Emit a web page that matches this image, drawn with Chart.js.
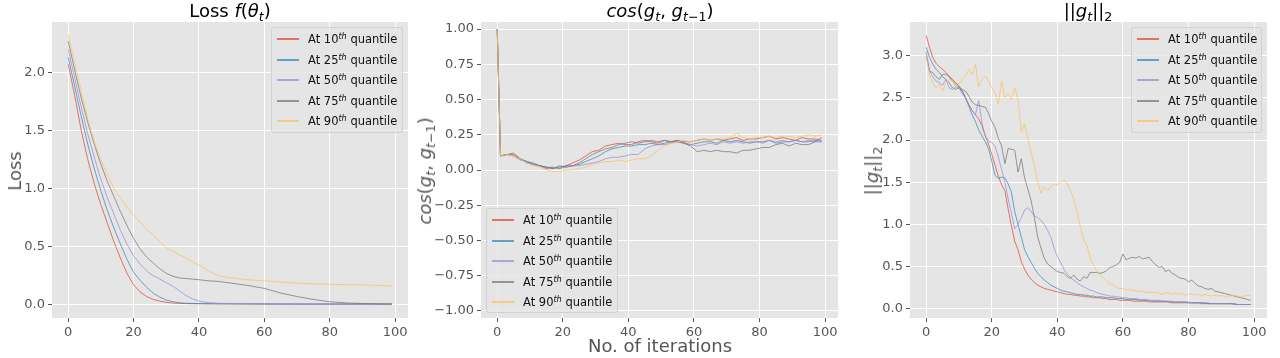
<!DOCTYPE html>
<html>
<head>
<meta charset="utf-8">
<script src="https://cdn.jsdelivr.net/npm/chart.js@4.4.1/dist/chart.umd.min.js"></script>
<style>
  body { margin: 0; background: #fff; width: 1280px; height: 358px; overflow: hidden; position: relative; font-family: "DejaVu Sans", sans-serif; }
  canvas { position: absolute; top: 0; }
  .title { position: absolute; top: 2px; font-size: 18px; line-height: 18px; color: #000; white-space: nowrap; transform: translateX(-50%); }
  .ylab { position: absolute; font-size: 18px; line-height: 18px; color: #555; white-space: nowrap; transform: translate(-50%, -50%) rotate(-90deg); }
  .xlab { position: absolute; font-size: 18px; line-height: 18px; color: #555; white-space: nowrap; transform: translateX(-50%); }
  sub { font-size: 70%; vertical-align: -0.3em; line-height: 0; }
  sup { font-size: 70%; vertical-align: 0.45em; line-height: 0; }
  .legend { position: absolute; background: rgba(229,229,229,0.8); border: 1px solid rgba(204,204,204,0.8); border-radius: 3px; box-sizing: border-box; }
  .legend .row { position: absolute; left: 0; right: 0; height: 0; }
  .legend .swatch { position: absolute; left: 5px; width: 22px; top: -1px; height: 2px; opacity: 0.75; }
  .legend .lbl { position: absolute; left: 36px; top: -8px; font-size: 11.5px; line-height: 16px; color: #111; white-space: nowrap; }
</style>
</head>
<body>
<canvas id="c1"></canvas>
<canvas id="c2"></canvas>
<canvas id="c3"></canvas>

<div class="title" style="left:230px">Loss <i>f</i>(<i>θ</i><sub><i>t</i></sub>)</div>
<div class="title" style="left:660px"><i>cos</i>(<i>g</i><sub><i>t</i></sub>, <i>g</i><sub><i>t</i>−1</sub>)</div>
<div class="title" style="left:1088px">||<i>g</i><sub><i>t</i></sub>||<sub>2</sub></div>

<div class="ylab" style="left:15px;top:171px">Loss</div>
<div class="ylab" style="left:425px;top:171px"><i>cos</i>(<i>g</i><sub><i>t</i></sub>, <i>g</i><sub><i>t</i>−1</sub>)</div>
<div class="ylab" style="left:872px;top:171px">||<i>g</i><sub><i>t</i></sub>||<sub>2</sub></div>
<div class="xlab" style="left:660px;top:337px">No. of iterations</div>

<div id="leg1" class="legend" style="left:271px;top:27px;width:132px;height:106px"></div>
<div id="leg2" class="legend" style="left:486px;top:208px;width:132px;height:105px"></div>
<div id="leg3" class="legend" style="left:1131px;top:27px;width:131px;height:106px"></div>

<script>
const quantiles = [10, 25, 50, 75, 90];
const colors = ['rgba(226,74,51,0.75)', 'rgba(52,138,189,0.75)', 'rgba(152,142,213,0.75)', 'rgba(119,119,119,0.75)', 'rgba(251,193,94,0.75)'];
const swatchColors = ['#E24A33', '#348ABD', '#988ED5', '#777777', '#FBC15E'];
const xTicks = [0, 20, 40, 60, 80, 100];

// Loss f(theta_t)
const lossIters = [0,2,4,6,8,10,12,14,16,18,20,22,24,26,28,30,32,34,36,38,40,43,46,50,55,60,65,70,75,80,85,90,95,99];
const loss10 = [2.07,1.80,1.50,1.25,1.04,0.86,0.70,0.54,0.40,0.27,0.17,0.11,0.07,0.045,0.03,0.02,0.014,0.011,0.009,0.008,0.008,0.007,0.007,0.006,0.006,0.005,0.005,0.005,0.005,0.005,0.005,0.005,0.005,0.005];
const loss25 = [2.13,1.88,1.62,1.38,1.17,0.98,0.81,0.66,0.52,0.39,0.28,0.21,0.15,0.10,0.065,0.04,0.025,0.016,0.012,0.010,0.009,0.008,0.007,0.007,0.006,0.006,0.005,0.005,0.005,0.005,0.005,0.005,0.005,0.005];
const loss50 = [2.20,1.95,1.70,1.47,1.27,1.08,0.92,0.78,0.64,0.52,0.42,0.35,0.29,0.25,0.22,0.19,0.16,0.12,0.08,0.05,0.03,0.017,0.012,0.010,0.008,0.007,0.006,0.006,0.005,0.005,0.005,0.005,0.005,0.005];
const loss75 = [2.27,2.02,1.78,1.57,1.38,1.21,1.06,0.93,0.80,0.68,0.57,0.48,0.41,0.36,0.31,0.27,0.245,0.23,0.225,0.22,0.215,0.205,0.20,0.185,0.165,0.14,0.10,0.07,0.045,0.025,0.015,0.010,0.007,0.005];
const loss90 = [2.32,2.08,1.84,1.60,1.40,1.25,1.12,1.00,0.92,0.84,0.77,0.71,0.65,0.60,0.54,0.49,0.46,0.43,0.40,0.37,0.34,0.29,0.25,0.23,0.215,0.205,0.195,0.185,0.18,0.175,0.172,0.17,0.165,0.16];
const lossTicks = [0.0, 0.5, 1.0, 1.5, 2.0];

// cos(g_t, g_{t-1})
const cosIters = [0,1,3,5,7,9,11,13,15,17,19,21,23,25,27,29,31,33,35,37,39,41,43,45,47,49,51,53,55,57,59,61,63,65,67,69,71,73,75,77,79,81,83,85,87,89,91,93,95,97,99];
const cos10 = [1.0,0.10,0.11,0.11,0.08,0.06,0.04,0.03,0.01,0.02,0.01,0.03,0.05,0.07,0.10,0.13,0.14,0.17,0.18,0.19,0.18,0.18,0.20,0.21,0.20,0.19,0.21,0.20,0.21,0.20,0.20,0.21,0.22,0.21,0.22,0.21,0.22,0.23,0.21,0.22,0.22,0.23,0.24,0.22,0.23,0.22,0.21,0.23,0.22,0.22,0.21];
const cos25 = [1.0,0.10,0.11,0.10,0.08,0.05,0.04,0.03,0.02,0.01,0.03,0.02,0.03,0.04,0.06,0.08,0.10,0.13,0.15,0.16,0.17,0.17,0.18,0.18,0.19,0.18,0.19,0.20,0.20,0.19,0.18,0.19,0.20,0.20,0.19,0.21,0.20,0.21,0.20,0.19,0.20,0.20,0.21,0.19,0.20,0.20,0.21,0.20,0.20,0.21,0.20];
const cos50 = [1.0,0.10,0.11,0.10,0.07,0.06,0.04,0.03,0.02,0.02,0.01,0.02,0.03,0.03,0.04,0.05,0.06,0.08,0.09,0.09,0.10,0.11,0.11,0.15,0.17,0.18,0.18,0.19,0.20,0.19,0.18,0.17,0.18,0.19,0.18,0.20,0.19,0.20,0.19,0.20,0.20,0.19,0.21,0.20,0.21,0.20,0.21,0.20,0.21,0.20,0.20];
const cos75 = [1.0,0.10,0.11,0.12,0.08,0.06,0.05,0.03,0.02,0.01,0.02,0.03,0.03,0.05,0.08,0.11,0.13,0.15,0.16,0.18,0.19,0.20,0.19,0.20,0.21,0.20,0.21,0.20,0.21,0.19,0.17,0.13,0.14,0.13,0.14,0.13,0.13,0.12,0.14,0.14,0.15,0.16,0.16,0.18,0.19,0.17,0.19,0.18,0.18,0.20,0.23];
const cos90 = [1.0,0.10,0.11,0.10,0.08,0.05,0.03,0.02,0.00,-0.01,-0.01,0.00,0.00,0.01,0.02,0.04,0.05,0.06,0.06,0.07,0.06,0.07,0.08,0.08,0.10,0.14,0.17,0.19,0.20,0.21,0.20,0.21,0.22,0.21,0.22,0.22,0.23,0.26,0.23,0.22,0.23,0.23,0.24,0.23,0.24,0.24,0.23,0.24,0.25,0.24,0.25];
const cosTicks = [-1.0, -0.75, -0.5, -0.25, 0.0, 0.25, 0.5, 0.75, 1.0];

// ||g_t||_2
const normIters = Array.from({ length: 100 }, (_, i) => i);
const norm10 = [3.24,3.10,2.98,2.91,2.87,2.84,2.80,2.76,2.72,2.68,2.64,2.58,2.50,2.42,2.35,2.30,2.25,2.17,2.05,1.95,1.83,1.70,1.57,1.47,1.40,1.18,0.98,0.80,0.70,0.56,0.47,0.40,0.35,0.31,0.28,0.26,0.24,0.23,0.22,0.21,0.20,0.19,0.18,0.17,0.17,0.16,0.16,0.15,0.15,0.14,
  0.14,0.13,0.13,0.13,0.12,0.12,0.11,0.11,0.11,0.10,0.10,0.10,0.10,0.09,0.09,0.09,0.09,0.09,0.08,0.08,0.08,0.08,0.08,0.08,0.08,0.07,0.07,0.07,0.07,0.07,0.07,0.07,0.07,0.07,0.06,0.06,0.06,0.06,0.06,0.06,0.06,0.06,0.06,0.06,0.05,0.05,0.05,0.05,0.05,0.05];
const norm25 = [3.10,2.98,2.90,2.84,2.80,2.75,2.72,2.68,2.62,2.60,2.62,2.58,2.50,2.40,2.30,2.22,2.12,2.05,1.98,1.90,1.75,1.58,1.55,1.56,1.55,1.48,1.38,1.15,1.00,0.85,0.70,0.62,0.55,0.48,0.42,0.38,0.34,0.31,0.28,0.26,0.24,0.22,0.21,0.20,0.19,0.18,0.17,0.17,0.16,0.16,
  0.15,0.15,0.14,0.14,0.14,0.13,0.13,0.13,0.12,0.12,0.12,0.11,0.11,0.11,0.11,0.10,0.10,0.10,0.10,0.09,0.09,0.09,0.09,0.09,0.08,0.08,0.08,0.08,0.08,0.08,0.07,0.07,0.07,0.07,0.07,0.07,0.06,0.06,0.06,0.06,0.06,0.06,0.06,0.06,0.06,0.05,0.05,0.05,0.05,0.05];
const norm50 = [3.05,2.82,2.75,2.70,2.68,2.65,2.72,2.62,2.60,2.63,2.62,2.55,2.50,2.42,2.35,2.30,2.47,2.20,2.05,1.99,1.97,1.93,1.80,1.65,1.50,1.30,1.13,0.95,1.00,1.08,1.17,1.20,1.15,1.10,1.08,1.05,1.00,0.93,0.85,0.72,0.62,0.55,0.47,0.41,0.37,0.34,0.31,0.28,0.26,0.24,
  0.22,0.21,0.19,0.18,0.17,0.16,0.15,0.15,0.14,0.14,0.13,0.13,0.12,0.12,0.12,0.11,0.11,0.11,0.10,0.10,0.10,0.10,0.09,0.09,0.09,0.09,0.08,0.08,0.08,0.08,0.08,0.07,0.07,0.07,0.07,0.07,0.07,0.06,0.06,0.06,0.06,0.06,0.06,0.06,0.06,0.05,0.05,0.05,0.05,0.05];
const norm75 = [3.00,2.82,2.80,2.75,2.72,2.78,2.78,2.75,2.70,2.66,2.63,2.60,2.58,2.52,2.45,2.42,2.41,2.40,2.39,2.32,2.22,2.15,2.02,1.93,1.72,1.90,1.89,1.88,1.62,1.78,1.55,1.42,1.28,1.08,0.85,0.72,0.60,0.53,0.50,0.47,0.44,0.43,0.42,0.38,0.36,0.40,0.35,0.33,0.38,0.36,
  0.43,0.43,0.43,0.42,0.43,0.45,0.49,0.50,0.52,0.55,0.65,0.58,0.60,0.61,0.60,0.62,0.59,0.60,0.61,0.56,0.52,0.49,0.50,0.44,0.46,0.42,0.40,0.37,0.36,0.35,0.32,0.34,0.30,0.27,0.26,0.24,0.23,0.24,0.21,0.20,0.19,0.18,0.17,0.16,0.15,0.14,0.13,0.12,0.11,0.10];
const norm90 = [3.00,2.78,2.68,2.62,2.66,2.58,2.68,2.72,2.70,2.62,2.66,2.72,2.76,2.84,2.78,2.90,2.63,2.72,2.76,2.70,2.62,2.55,2.43,2.70,2.50,2.55,2.48,2.62,2.48,2.10,2.19,2.02,1.85,1.70,1.50,1.37,1.45,1.40,1.45,1.48,1.47,1.50,1.53,1.48,1.40,1.30,1.15,0.97,0.82,0.75,
  0.61,0.52,0.45,0.40,0.37,0.33,0.30,0.28,0.26,0.24,0.24,0.22,0.23,0.21,0.22,0.20,0.21,0.19,0.20,0.19,0.20,0.18,0.17,0.19,0.18,0.17,0.19,0.17,0.18,0.16,0.17,0.18,0.16,0.17,0.15,0.17,0.16,0.15,0.16,0.15,0.16,0.14,0.15,0.15,0.16,0.15,0.14,0.15,0.16,0.16];
const normTicks = [0.0, 0.5, 1.0, 1.5, 2.0, 2.5, 3.0];

const areaBg = {
  id: 'areaBg',
  beforeDraw(chart) {
    const { ctx, chartArea: a } = chart;
    ctx.save();
    ctx.fillStyle = '#E5E5E5';
    ctx.fillRect(a.left, a.top, a.right - a.left, a.bottom - a.top);
    ctx.restore();
  }
};

const Y_AXIS_W = 50, X_AXIS_H = 26;

function makePanel(id, area, xs, series, yMin, yMax, yTicks, yFmt) {
  const cv = document.getElementById(id);
  const left = area.l - Y_AXIS_W;
  cv.style.left = left + 'px';
  cv.width = area.r + 14 - left;
  cv.height = 358;
  const tickFont = { family: 'DejaVu Sans', size: 13 };
  new Chart(cv, {
    type: 'line',
    data: {
      datasets: series.map((s, k) => ({
        label: 'At ' + quantiles[k] + 'th quantile',
        data: xs.map((x, i) => ({ x: x, y: s[i] })),
        borderColor: colors[k],
        borderWidth: 1,
        pointRadius: 0,
        tension: 0,
        order: series.length - k
      }))
    },
    options: {
      responsive: false,
      animation: false,
      layout: { padding: { left: 0, right: 14, top: area.t, bottom: 358 - area.b - X_AXIS_H } },
      plugins: { legend: { display: false }, tooltip: { enabled: false } },
      scales: {
        x: {
          type: 'linear', min: -4.95, max: 103.95,
          afterBuildTicks: s => { s.ticks = xTicks.map(v => ({ value: v })); },
          afterFit: s => { s.height = X_AXIS_H; },
          grid: { color: '#fff', lineWidth: 1, tickColor: '#555', tickLength: 4 },
          border: { display: false },
          ticks: { color: '#555', font: tickFont, padding: 3, maxRotation: 0, autoSkip: false, callback: v => String(v) }
        },
        y: {
          type: 'linear', min: yMin, max: yMax,
          afterBuildTicks: s => { s.ticks = yTicks.map(v => ({ value: v })); },
          afterFit: s => { s.width = Y_AXIS_W; },
          grid: { color: '#fff', lineWidth: 1, tickColor: '#555', tickLength: 4 },
          border: { display: false },
          ticks: { color: '#555', font: tickFont, padding: 3, autoSkip: false, callback: v => yFmt(v) }
        }
      }
    },
    plugins: [areaBg]
  });
}

const fmt = d => v => (v < 0 ? '\u2212' : '') + Math.abs(v).toFixed(d);

makePanel('c1', { l: 52, r: 408, t: 22, b: 318 }, lossIters, [loss10, loss25, loss50, loss75, loss90], -0.115, 2.435, lossTicks, fmt(1));
makePanel('c2', { l: 481, r: 838, t: 22, b: 318 }, cosIters, [cos10, cos25, cos50, cos75, cos90], -1.05, 1.05, cosTicks, fmt(2));
makePanel('c3', { l: 910, r: 1267, t: 22, b: 318 }, normIters, [norm10, norm25, norm50, norm75, norm90], -0.11, 3.40, normTicks, fmt(1));

function buildLegend(id) {
  const box = document.getElementById(id);
  quantiles.forEach((q, k) => {
    const row = document.createElement('div');
    row.className = 'row';
    row.style.top = Math.round(11 + k * 20.6) + 'px';
    const sw = document.createElement('div');
    sw.className = 'swatch';
    sw.style.backgroundColor = swatchColors[k];
    const lbl = document.createElement('div');
    lbl.className = 'lbl';
    lbl.innerHTML = 'At ' + q + '<sup><i>th</i></sup> quantile';
    row.appendChild(sw);
    row.appendChild(lbl);
    box.appendChild(row);
  });
}
['leg1', 'leg2', 'leg3'].forEach(buildLegend);
</script>
</body>
</html>
